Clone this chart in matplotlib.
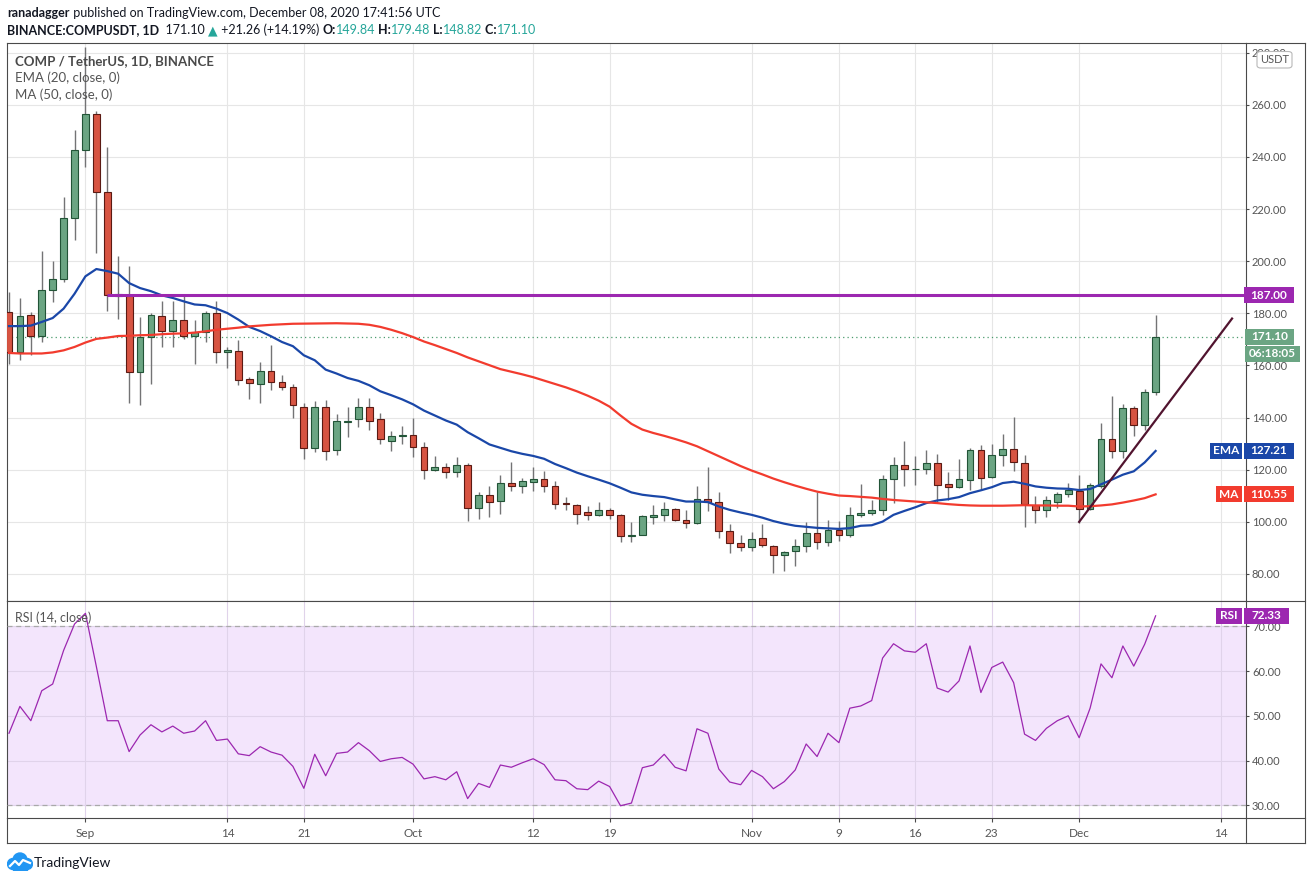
import matplotlib
matplotlib.use("Agg")
import matplotlib.pyplot as plt
import matplotlib.dates as mdates
from matplotlib.patches import Rectangle, FancyBboxPatch, Circle
from matplotlib.lines import Line2D
from matplotlib.ticker import FormatStrFormatter
from matplotlib.transforms import blended_transform_factory
import numpy as np
import pandas as pd

plt.rcParams['font.family'] = ['Lato', 'DejaVu Sans']

# daily candles COMP/USDT, Aug 25 - Dec 8 2020
dates = pd.date_range("2020-08-25", "2020-12-08", freq="D")
opens = [180.5, 165.0, 179.5, 171.4, 188.8, 193.0, 216.7, 242.8, 256.5, 226.7,
         186.6, 187.0, 157.5, 170.8, 179.0, 173.2, 177.6, 171.4, 173.0, 180.3,
         165.0, 165.6, 154.8, 153.0, 157.9, 153.7, 151.8, 144.1, 128.5, 143.9,
         127.5, 138.4, 139.3, 143.9, 139.3, 131.2, 132.8, 133.4, 128.9, 120.0,
         121.1, 119.2, 121.9, 105.4, 110.4, 107.9, 115.0, 113.7, 115.2, 116.5,
         113.8, 107.0, 106.5, 103.6, 102.7, 104.6, 102.7, 94.7, 95.0, 101.8,
         102.7, 105.0, 100.9, 99.6, 108.8, 107.7, 96.6, 92.0, 90.3, 93.9,
         90.8, 87.4, 88.9, 90.8, 95.8, 92.4, 97.0, 94.9, 102.6, 103.3,
         104.6, 116.4, 121.8, 120.1, 120.3, 122.7, 114.6, 113.3, 115.9, 127.7,
         117.2, 125.8, 128.0, 122.6, 106.5, 104.6, 107.8, 110.6, 112.0, 104.9,
         113.6, 131.8, 127.1, 143.7, 137.0, 149.84]
highs = [188.0, 186.0, 180.5, 204.0, 200.0, 224.6, 250.4, 282.0, 257.5, 244.0,
         202.0, 198.0, 178.6, 180.0, 184.6, 184.6, 187.0, 177.6, 181.0, 184.7,
         167.0, 169.7, 155.5, 161.2, 167.7, 156.2, 153.0, 145.6, 146.3, 146.9,
         141.3, 144.1, 147.6, 147.7, 141.8, 134.9, 136.7, 140.0, 130.8, 125.4,
         122.6, 124.7, 122.6, 111.6, 113.9, 117.8, 123.1, 117.0, 121.0, 119.4,
         115.5, 109.7, 107.0, 105.9, 107.8, 105.5, 102.9, 99.8, 102.8, 106.3,
         107.8, 105.4, 104.4, 113.6, 121.0, 111.6, 99.0, 94.8, 96.3, 99.0,
         91.0, 89.0, 93.5, 99.8, 111.6, 100.9, 100.3, 105.6, 114.6, 108.5,
         118.0, 124.7, 130.9, 125.1, 127.7, 126.2, 119.0, 124.2, 128.3, 129.4,
         129.7, 133.8, 140.1, 125.8, 110.0, 110.0, 111.5, 114.9, 118.1, 114.9,
         137.9, 148.2, 145.4, 144.4, 151.0, 179.48]
lows = [160.7, 162.0, 164.0, 169.0, 184.3, 192.0, 208.0, 236.0, 203.0, 181.0,
        178.0, 145.6, 145.0, 153.0, 167.0, 167.0, 170.0, 160.7, 169.0, 161.0,
        159.0, 152.4, 147.0, 145.6, 150.5, 150.5, 140.0, 124.3, 126.9, 123.9,
        125.8, 132.6, 136.4, 135.2, 129.8, 127.2, 130.0, 124.8, 116.4, 119.4,
        116.9, 117.1, 100.5, 101.0, 101.8, 103.1, 112.0, 111.0, 111.8, 111.4,
        104.8, 104.4, 99.0, 100.9, 102.2, 101.0, 92.2, 92.2, 94.8, 99.1,
        100.5, 100.5, 97.6, 99.2, 104.1, 93.8, 88.0, 88.8, 89.0, 90.3,
        80.4, 81.2, 83.0, 88.4, 89.4, 90.7, 92.6, 94.1, 102.0, 102.6,
        102.8, 107.2, 113.6, 114.2, 118.3, 107.2, 108.5, 112.9, 112.3, 112.3,
        116.8, 121.3, 119.7, 98.2, 99.7, 102.0, 105.4, 109.5, 99.7, 104.4,
        112.9, 124.5, 124.5, 132.8, 135.1, 148.82]
closes = [165.2, 179.1, 171.4, 188.8, 193.0, 216.7, 242.8, 256.5, 226.7, 187.0,
          187.3, 157.5, 171.0, 179.2, 173.1, 177.6, 171.4, 173.0, 180.0, 165.0,
          166.0, 154.6, 153.1, 157.9, 153.7, 151.8, 144.8, 128.2, 143.9, 127.1,
          138.6, 138.8, 143.9, 138.8, 131.6, 132.8, 133.1, 128.9, 120.0, 121.1,
          119.2, 121.9, 105.4, 110.4, 107.6, 115.0, 113.7, 115.5, 116.5, 113.7,
          106.9, 106.8, 103.1, 102.7, 104.6, 102.7, 94.7, 95.0, 102.3, 102.7,
          105.0, 100.8, 99.5, 108.8, 107.6, 96.6, 92.0, 90.3, 93.5, 91.2,
          87.4, 88.4, 90.8, 95.8, 92.4, 97.0, 94.8, 102.6, 103.3, 104.6,
          116.4, 121.9, 120.3, 120.4, 122.7, 114.1, 113.3, 116.4, 127.7, 116.8,
          125.8, 128.0, 123.0, 106.9, 104.6, 108.2, 110.6, 112.3, 104.9, 114.0,
          131.8, 127.1, 143.7, 137.0, 149.84, 171.10]

# indicator lines as drawn on the chart
ema20 = [175.1, 175.1, 175.3, 176.7, 178.2, 181.8, 187.5, 194.2, 197.0, 196.2,
         195.2, 191.6, 189.7, 188.5, 186.9, 185.9, 184.6, 183.4, 183.1, 181.8,
         180.1, 177.6, 174.8, 173.2, 171.2, 169.0, 167.4, 163.9, 162.0, 158.4,
         156.9, 155.2, 154.1, 152.4, 150.1, 148.6, 147.0, 145.1, 142.7, 140.8,
         138.9, 137.3, 134.4, 132.1, 129.7, 128.4, 127.1, 126.1, 125.3, 124.2,
         122.2, 120.6, 118.9, 117.5, 116.2, 114.8, 113.1, 111.3, 110.4, 109.9,
         109.5, 108.6, 107.8, 107.8, 107.6, 105.9, 104.6, 103.6, 102.7, 101.6,
         100.3, 99.3, 98.5, 98.1, 97.7, 97.5, 97.3, 97.6, 98.5, 98.7,
         100.1, 102.7, 104.2, 105.6, 107.2, 108.2, 108.7, 109.5, 111.0, 112.1,
         113.3, 114.9, 115.4, 114.6, 113.6, 113.1, 112.8, 112.7, 112.2, 112.6,
         114.4, 116.2, 118.1, 119.4, 122.8, 127.21]
ma50 = [164.8, 164.6, 164.6, 164.6, 165.0, 165.8, 167.1, 168.8, 170.2, 170.7,
        171.3, 171.4, 171.6, 171.7, 172.0, 172.2, 172.3, 172.6, 173.1, 173.7,
        174.1, 174.5, 175.0, 175.3, 175.6, 175.8, 176.0, 176.05, 176.1, 176.15,
        176.2, 176.1, 176.0, 175.6, 174.8, 173.7, 172.4, 170.9, 169.2, 167.8,
        166.3, 164.8, 163.1, 161.6, 160.1, 158.6, 157.6, 156.6, 155.5, 154.2,
        152.9, 151.6, 150.1, 148.4, 146.5, 144.2, 140.8, 137.6, 135.4, 134.1,
        133.0, 131.8, 130.5, 129.0, 127.1, 125.2, 123.3, 121.4, 119.7, 118.2,
        116.6, 115.2, 113.9, 112.7, 111.6, 110.8, 110.1, 109.9, 109.6, 109.3,
        108.8, 108.4, 108.1, 107.8, 107.5, 107.2, 106.8, 106.5, 106.3, 106.2,
        106.2, 106.2, 106.3, 106.4, 106.3, 106.3, 106.2, 106.2, 105.9, 106.0,
        106.3, 106.7, 107.4, 108.2, 109.1, 110.55]
rsi14 = [46.1, 52.1, 48.9, 55.6, 57.1, 64.6, 70.5, 72.9, 61.0, 48.9,
         48.9, 42.0, 45.7, 48.0, 46.4, 47.7, 46.1, 46.6, 48.9, 44.5,
         44.8, 41.5, 41.1, 43.1, 41.9, 41.2, 38.7, 33.8, 41.4, 36.6,
         41.6, 41.9, 44.0, 42.2, 39.8, 40.4, 40.7, 39.2, 35.9, 36.4,
         35.7, 37.5, 31.5, 34.9, 34.0, 39.0, 38.5, 39.5, 40.4, 39.1,
         35.7, 35.5, 33.7, 33.5, 35.4, 34.2, 29.9, 30.5, 38.4, 39.0,
         41.4, 38.5, 37.7, 47.1, 46.1, 38.1, 35.2, 34.6, 37.8, 36.4,
         33.7, 35.3, 37.9, 43.7, 40.9, 46.1, 44.0, 51.7, 52.2, 53.4,
         62.9, 66.1, 64.5, 64.2, 66.1, 56.2, 55.3, 57.8, 65.6, 55.2,
         60.8, 62.0, 57.4, 45.9, 44.5, 47.2, 48.9, 50.0, 45.1, 51.7,
         61.6, 58.5, 65.6, 61.1, 66.0, 72.33]

resistance = 187.00
resistance_from = "2020-09-03"
last_close = 171.10
trend_dates = ["2020-12-01", "2020-12-15"]
trend_vals = [100.0, 178.0]
tick_dates = ["2020-09-01", "2020-09-14", "2020-09-21", "2020-10-01", "2020-10-12",
              "2020-10-19", "2020-11-01", "2020-11-09", "2020-11-16", "2020-11-23",
              "2020-12-01", "2020-12-14"]
tick_labels = ["Sep", "14", "21", "Oct", "12", "19", "Nov", "9", "16", "23", "Dec", "14"]
price_ticks = list(range(80, 281, 20))
rsi_ticks = [30, 40, 50, 60, 70]

GREEN, GREEN_EDGE = "#6ba583", "#225437"
RED, RED_EDGE = "#d75442", "#5b1a13"
FRAME = "#4a4a4a"
TXT = "#555555"

W, H = 1311, 881
fig = plt.figure(figsize=(W / 100, H / 100), dpi=100)


def fx(px):
    return px / W


def fy(py):
    return 1 - py / H


left, right, edge = 6.7, 1245.7, 1305
top, mid, bot, base = 43.3, 601, 817.7, 843.3
ax = fig.add_axes([fx(left), fy(mid), fx(right - left), (mid - top) / H])
rx = fig.add_axes([fx(left), fy(bot), fx(right - left), (bot - mid) / H], sharex=ax)

x = mdates.date2num(dates)
o, h, l, c = map(np.array, (opens, highs, lows, closes))
up = c >= o
lo = np.minimum(o, c)
hh = np.maximum(np.abs(c - o), 0.35)

ax.vlines(x, l, h, color="#737375", lw=1, zorder=3)
ax.bar(x[up], hh[up], 0.62, bottom=lo[up], color=GREEN, edgecolor=GREEN_EDGE, lw=0.8, zorder=4)
ax.bar(x[~up], hh[~up], 0.62, bottom=lo[~up], color=RED, edgecolor=RED_EDGE, lw=0.8, zorder=4)

ax.plot(x, ema20, color="#1a47a8", lw=1.6, zorder=5)
ax.plot(x, ma50, color="#f23b2e", lw=1.6, zorder=5)

x0 = x[0] - 0.21
x1 = x[0] + 113.25
ax.hlines(resistance, mdates.datestr2num(resistance_from), x1, color="#9c27b0", lw=2.2, zorder=6)
ax.axhline(last_close, color="#4c9c6e", lw=0.9, ls=(0, (1, 2.5)), zorder=2)
ax.plot(mdates.datestr2num(trend_dates), trend_vals, color="#51142f", lw=1.6, zorder=6)

ax.set_xlim(x0, x1)
ax.set_ylim(69.64, 283.6)
ax.set_yticks(price_ticks)
ax.yaxis.set_major_formatter(FormatStrFormatter("%.2f"))
tx = mdates.datestr2num(tick_dates)
ax.set_xticks(tx)
ax.grid(color="#e6e6e6", lw=0.8)
ax.set_axisbelow(True)
ax.tick_params(axis="x", length=0, labelbottom=False)
ax.tick_params(axis="y", left=False, labelleft=False, right=True, labelright=True,
               length=2.5, pad=2, labelsize=8, labelcolor=TXT, color=FRAME)

# RSI pane
rx.axhspan(30, 70, color="#f3e5fc", zorder=0, lw=0)
rx.plot(x, rsi14, color="#9c27b0", lw=0.9, zorder=4)
rx.axhline(70, color="#a9a9a9", lw=0.9, ls=(0, (4, 3)), zorder=3)
rx.axhline(30, color="#a9a9a9", lw=0.9, ls=(0, (4, 3)), zorder=3)
rx.set_ylim(27.23, 75.65)
rx.set_yticks(rsi_ticks)
rx.yaxis.set_major_formatter(FormatStrFormatter("%.2f"))
rx.set_xticks(tx, tick_labels)
rx.grid(color="#e0d3ea", lw=0.8)
rx.set_axisbelow(True)
rx.tick_params(axis="x", length=3, pad=4.5, labelsize=8.5, labelcolor=TXT, color=FRAME)
rx.tick_params(axis="y", left=False, labelleft=False, right=True, labelright=True,
               length=2.5, pad=2, labelsize=8, labelcolor=TXT, color=FRAME)

for a in (ax, rx):
    for s in a.spines.values():
        s.set_color(FRAME)
        s.set_linewidth(0.8)

# outer frame around the price scale and date strip
for (xa, xb, ya, yb) in [(right, edge, top, top), (edge, edge, top, base), (left, edge, base, base),
                         (left, left, bot, base), (right, right, bot, base),
                         (right, edge, mid, mid), (right, edge, bot, bot)]:
    fig.add_artist(Line2D([fx(xa), fx(xb)], [fy(ya), fy(yb)], color=FRAME, lw=0.8))


def tag(axis, yval, txt, fc, xa, xb, hpx, pxunit, bold=True):
    tr = blended_transform_factory(fig.transFigure, axis.transData)
    half = hpx / pxunit / 2
    axis.add_patch(Rectangle((fx(xa), yval - half), fx(xb - xa), 2 * half, transform=tr,
                             facecolor=fc, edgecolor="none", clip_on=False, zorder=20))
    axis.text(fx((xa + xb) / 2), yval, txt, transform=tr, ha="center", va="center",
              color="white", fontsize=8.5, fontweight="bold" if bold else "normal",
              clip_on=False, zorder=21)


pp = (mid - top) / (283.6 - 69.64)
rp = (bot - mid) / (75.65 - 27.23)
tag(ax, resistance, "%.2f" % resistance, "#9c27b0", 1244, 1294, 16, pp)
tag(ax, last_close, "%.2f" % last_close, "#6ba583", 1245, 1294, 16, pp)
tag(ax, last_close - 17 / pp, "06:18:05", "#6ba583", 1245, 1300, 16, pp)
tag(ax, ema20[-1], "%.2f" % ema20[-1], "#1a47a8", 1243.5, 1294, 16, pp)
tag(ax, ema20[-1], "EMA", "#1a47a8", 1210, 1242, 16, pp)
tag(ax, ma50[-1], "%.2f" % ma50[-1], "#f23b2e", 1243.5, 1294, 16, pp)
tag(ax, ma50[-1], "MA", "#f23b2e", 1216, 1242, 16, pp)
tag(rx, rsi14[-1], "%.2f" % rsi14[-1], "#9c27b0", 1244, 1289, 16, rp)
tag(rx, rsi14[-1], "RSI", "#9c27b0", 1216, 1242, 16, rp)

usdt = FancyBboxPatch((fx(1257), fy(68)), fx(35), 16.5 / H, boxstyle="round,pad=0,rounding_size=0.003",
                      transform=fig.transFigure, facecolor="white", edgecolor="#b8b8b8", lw=0.8, zorder=30)
fig.add_artist(usdt)
fig.text(fx(1274.5), fy(59.5), "USDT", ha="center", va="center", fontsize=8, color=TXT, zorder=31)

# legend texts inside panes
fig.text(fx(15), fy(65.5), "COMP / TetherUS, 1D, BINANCE", fontsize=9.5, color="#4a4a4a",
         fontweight="bold", va="baseline")
fig.text(fx(15), fy(82.3), "EMA (20, close, 0)", fontsize=9.5, color=TXT, va="baseline")
fig.text(fx(15), fy(99.3), "MA (50, close, 0)", fontsize=9.5, color=TXT, va="baseline")
fig.text(fx(15), fy(622), "RSI (14, close)", fontsize=9, color=TXT, va="baseline")

# header
fig.canvas.draw()
rend = fig.canvas.get_renderer()


def run(x_start, y_base, pieces, size):
    xp = x_start
    for s, col, wt in pieces:
        t = fig.text(fx(xp), fy(y_base), s, color=col, fontsize=size, fontweight=wt, va="baseline")
        xp += t.get_window_extent(renderer=rend).width


DARK, TEAL = "#131722", "#26a69a"
run(7, 17, [("ranadagger", DARK, "bold"),
            (" published on TradingView.com, December 08, 2020 17:41:56 UTC", DARK, "normal")], 9)
run(7, 34, [("BINANCE:COMPUSDT, 1D", DARK, "bold"), ("  171.10 ", DARK, "normal"),
            ("\u25b2", TEAL, "normal"), (" +21.26 (+14.19%) ", DARK, "normal"),
            ("O:", DARK, "bold"), ("149.84", TEAL, "normal"), (" H:", DARK, "bold"),
            ("179.48", TEAL, "normal"), (" L:", DARK, "bold"), ("148.82", TEAL, "normal"),
            (" C:", DARK, "bold"), ("171.10", TEAL, "normal")], 9)

# TradingView logo
lg = fig.add_axes([fx(7), fy(871), fx(26), 20 / H])
lg.set_xlim(0, 26)
lg.set_ylim(0, 20)
lg.axis("off")
for cx, cy, r in [(6, 7, 5.5), (13, 11, 7), (20, 7, 5.5)]:
    lg.add_patch(Circle((cx, cy), r, color="#2196f3"))
lg.add_patch(Rectangle((6, 1.5), 14, 6, color="#2196f3"))
lg.plot([3, 8, 12, 16, 23], [5, 10, 6, 11, 8], color="white", lw=1.6)
fig.text(fx(34), fy(867), "TradingView", fontsize=10, color=DARK, va="baseline")

fig.savefig("out.png", dpi=100, facecolor="white")
